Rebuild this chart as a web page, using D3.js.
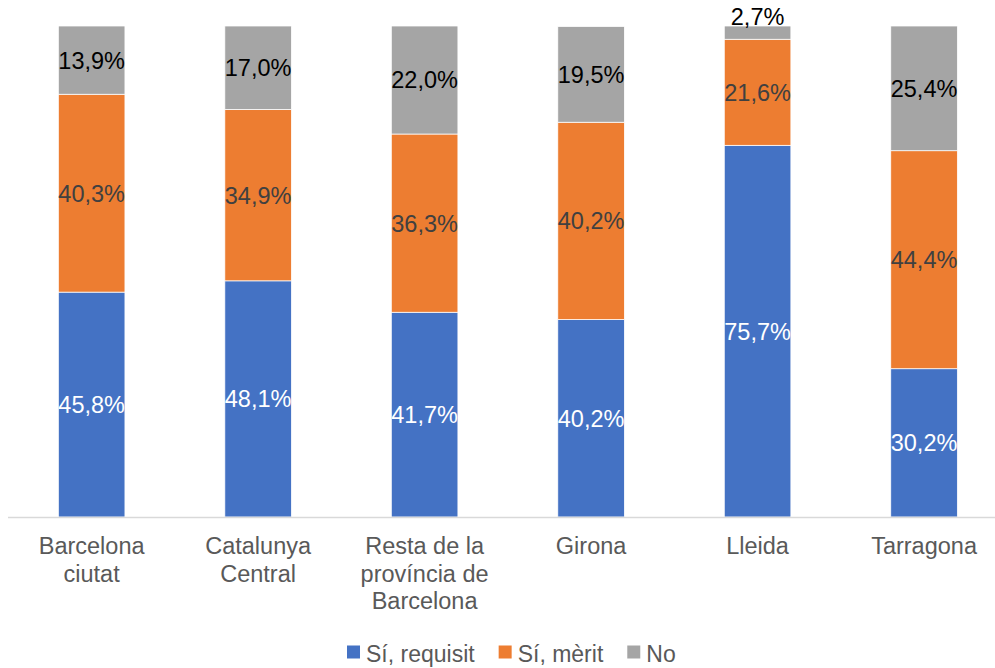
<!DOCTYPE html>
<html>
<head>
<meta charset="utf-8">
<script src="https://cdn.jsdelivr.net/npm/d3@7"></script>
<style>
  html, body { margin: 0; padding: 0; background: #fff; }
  svg { display: block; font-family: "Liberation Sans", Arial, sans-serif; }
</style>
</head>
<body>
<svg id="chart" width="995" height="668"></svg>
<script>
const categories = ["Barcelona ciutat", "Catalunya Central", "Resta de la província de Barcelona", "Girona", "Lleida", "Tarragona"];
const seriesNames = ["Sí, requisit", "Sí, mèrit", "No"];
const requisit = [45.8, 48.1, 41.7, 40.2, 75.7, 30.2];
const merit = [40.3, 34.9, 36.3, 40.2, 21.6, 44.4];
const no = [13.9, 17.0, 22.0, 19.5, 2.7, 25.4];
const colors = ["#4472C4", "#ED7D31", "#A5A5A5"];
const labelColors = ["#ffffff", "#404040", "#000000"];

const svg = d3.select("#chart");
const W = 995, H = 668;
const baseY = 517, topY = 26;

const x = d3.scaleBand().domain(categories).range([8.4, 1007.3]).paddingInner(0.6).paddingOuter(0.3);
const y = d3.scaleLinear().domain([0, 100]).range([baseY, topY]);

const rows = categories.map((c, i) => ({ cat: c, "Sí, requisit": requisit[i], "Sí, mèrit": merit[i], "No": no[i] }));
const stacked = d3.stack().keys(seriesNames)(rows);

const fmt = v => d3.format(".1f")(v).replace(".", ",") + "%";

const g = svg.append("g");
stacked.forEach((layer, si) => {
  const lg = g.append("g").attr("fill", colors[si]);
  lg.selectAll("rect").data(layer).join("rect")
    .attr("x", d => x(d.data.cat))
    .attr("width", x.bandwidth())
    .attr("y", d => y(d[1]))
    .attr("height", d => y(d[0]) - y(d[1]))
    .attr("stroke", "#ffffff")
    .attr("stroke-width", 0.75);
});

// axis line
svg.append("line").attr("x1", 8).attr("x2", W).attr("y1", baseY + 0.5).attr("y2", baseY + 0.5)
  .attr("stroke", "#d9d9d9").attr("stroke-width", 1.5);

// data labels
const LFS = 23.5;
stacked.forEach((layer, si) => {
  layer.forEach(d => {
    const v = d.data[seriesNames[si]];
    const h = y(d[0]) - y(d[1]);
    const cx = x(d.data.cat) + x.bandwidth() / 2;
    let ty;
    if (h < 20) { ty = y(d[1]) - 1.5; }
    else { ty = (y(d[0]) + y(d[1])) / 2 + 8.4; }
    svg.append("text")
      .attr("x", cx).attr("y", ty)
      .attr("text-anchor", "middle")
      .attr("font-size", LFS)
      .attr("fill", h < 20 ? "#000000" : labelColors[si])
      .text(fmt(v));
  });
});

// category labels with wrapping
const CFS = 23.5;
const cat = svg.append("g");
function wrapWords(text, maxW, fs) {
  const tmp = svg.append("text").attr("font-size", fs);
  const words = text.split(" ");
  const lines = [];
  let line = [];
  words.forEach(w => {
    const trial = line.concat([w]).join(" ");
    tmp.text(trial);
    if (tmp.node().getComputedTextLength() > maxW && line.length) {
      lines.push(line.join(" "));
      line = [w];
    } else line.push(w);
  });
  if (line.length) lines.push(line.join(" "));
  tmp.remove();
  return lines;
}
categories.forEach(c => {
  const lines = wrapWords(c, 150, CFS);
  const cx = x(c) + x.bandwidth() / 2;
  lines.forEach((ln, li) => {
    cat.append("text")
      .attr("x", cx).attr("y", 554 + li * 27.6)
      .attr("text-anchor", "middle")
      .attr("font-size", CFS)
      .attr("fill", "#595959")
      .text(ln);
  });
});

// legend
const leg = svg.append("g");
let lx = 347;
seriesNames.forEach((s, i) => {
  leg.append("rect").attr("x", lx).attr("y", 645.5).attr("width", 13).attr("height", 13).attr("fill", colors[i]);
  const t = leg.append("text")
    .attr("x", lx + 19).attr("y", 661.5)
    .attr("font-size", 23)
    .attr("fill", "#595959")
    .text(s);
  const w = t.node().getComputedTextLength();
  lx += 19 + w + 24;
});
</script>
</body>
</html>
